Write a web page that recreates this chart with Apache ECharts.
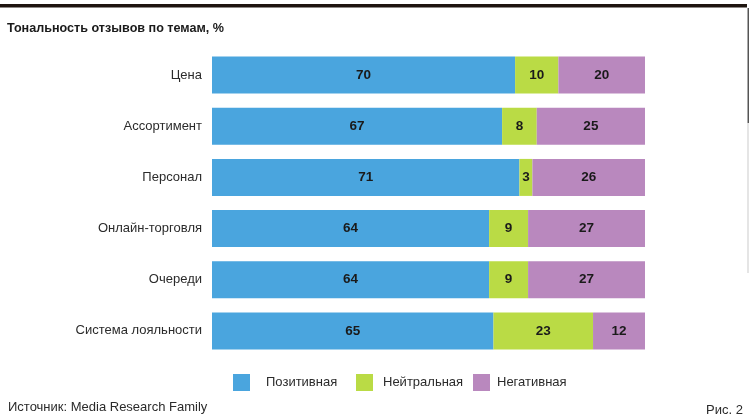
<!DOCTYPE html>
<html>
<head>
<meta charset="utf-8">
<script src="https://cdn.jsdelivr.net/npm/echarts@6/dist/echarts.min.js"></script>
<style>
html,body{margin:0;padding:0;background:#fff;}
#c{width:750px;height:419px;}
</style>
</head>
<body>
<div id="c"></div>
<script>
var categories = ['Цена', 'Ассортимент', 'Персонал', 'Онлайн-торговля', 'Очереди', 'Система лояльности'];
var positive = [70, 67, 71, 64, 64, 65];
var neutral = [10, 8, 3, 9, 9, 23];
var negative = [20, 25, 26, 27, 27, 12];
var seriesNames = ['Позитивная', 'Нейтральная', 'Негативная'];
var colors = ['#4aa5de', '#badb45', '#b988be'];

var font = '"Liberation Sans", Arial, sans-serif';
var chart = echarts.init(document.getElementById('c'), null, {renderer: 'canvas'});

function mk(name, data, color) {
  return {
    name: name,
    type: 'bar',
    stack: 'total',
    data: data,
    barWidth: 37,
    itemStyle: {color: color},
    label: {
      show: true,
      position: 'inside',
      color: '#1a1a1a',
      fontFamily: font,
      fontWeight: 'bold',
      fontSize: 13.5
    },
    emphasis: {disabled: true}
  };
}

var legendLefts = [233, 356, 473];
var legendTextPad = [16, 10, 7];
var legends = seriesNames.map(function (n, i) {
  return {
    data: [n],
    left: legendLefts[i],
    top: 374,
    padding: 0,
    itemWidth: 17,
    itemHeight: 17,
    icon: 'rect',
    selectedMode: false,
    textStyle: {color: '#2b2b2b', fontFamily: font, fontSize: 13, padding: [0, 0, 0, legendTextPad[i] - 5]}
  };
});

chart.setOption({
  animation: false,
  color: colors,
  grid: {left: 212, right: 105, top: 49.5, bottom: 62.5, containLabel: false},
  xAxis: {
    type: 'value', min: 0, max: 100,
    show: false
  },
  yAxis: {
    type: 'category',
    data: categories,
    inverse: true,
    axisLine: {show: false},
    axisTick: {show: false},
    axisLabel: {color: '#2b2b2b', fontFamily: font, fontSize: 13, margin: 10}
  },
  legend: legends,
  series: [
    mk(seriesNames[0], positive, colors[0]),
    mk(seriesNames[1], neutral, colors[1]),
    mk(seriesNames[2], negative, colors[2])
  ],
  graphic: [
    {type: 'rect', shape: {x: 0, y: 4, width: 747, height: 3.5}, style: {fill: '#1e140f'}},
    {type: 'rect', shape: {x: 747.5, y: 8, width: 1.5, height: 115}, style: {fill: '#555'}},
    {type: 'rect', shape: {x: 747.5, y: 123, width: 1, height: 150}, style: {fill: '#ccc'}},
    {type: 'text', left: 7, top: 22, style: {text: 'Тональность отзывов по темам, %', fill: '#1a1a1a', font: 'bold 12.6px ' + font}},
    {type: 'text', left: 8, top: 401, style: {text: 'Источник: Media Research Family', fill: '#2b2b2b', font: '13px ' + font}},
    {type: 'text', left: 706, top: 404, style: {text: 'Рис. 2', fill: '#2b2b2b', font: '13px ' + font}}
  ]
});
</script>
</body>
</html>
